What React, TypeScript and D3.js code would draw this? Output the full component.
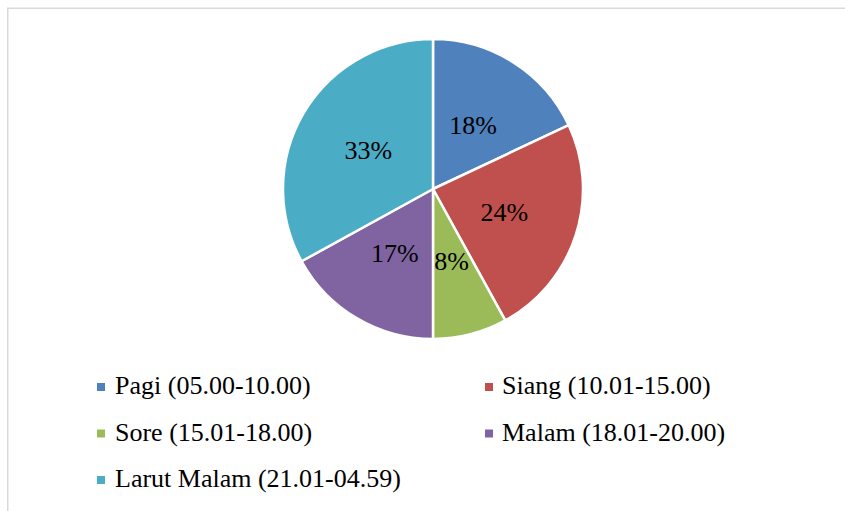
import React from "react";
import * as d3 from "d3";

const categories = [
  "Pagi (05.00-10.00)",
  "Siang (10.01-15.00)",
  "Sore (15.01-18.00)",
  "Malam (18.01-20.00)",
  "Larut Malam (21.01-04.59)",
];
const values = [18, 24, 8, 17, 33];
const colors = ["#4F81BD", "#C0504D", "#9BBB59", "#8064A2", "#4BACC6"];

const W = 845;
const H = 511;
const cx = 433;
const cy = 189;
const R = 150;
const FONT = "'Liberation Serif', 'Times New Roman', serif";

export default function App() {
  const pie = d3.pie<number>().sort(null).value((d) => d);
  const arcs = pie(values);
  const arc = d3.arc<d3.PieArcDatum<number>>().innerRadius(0).outerRadius(R);
  const total = d3.sum(values);

  const legendX = [97, 485];
  const legendTextX = [115, 502];
  const legendY = [394, 440.5, 487];

  return (
    <div style={{ position: "fixed", left: 0, top: 0 }}>
      <svg width={W} height={H} style={{ display: "block", background: "#fff" }}>
        <rect x={7.75} y={8.25} width={W + 20} height={H + 20} fill="#fff" stroke="#D9D9D9" strokeWidth={1.5} />
        <g transform={`translate(${cx},${cy})`}>
          {arcs.map((a, i) => (
            <path key={i} d={arc(a) || ""} fill={colors[i]} stroke="#fff" strokeWidth={2.5} strokeLinejoin="round" />
          ))}
          {arcs.map((a, i) => {
            const [x, y] = arc.centroid(a);
            return (
              <text
                key={"l" + i}
                x={x}
                y={y}
                dy="0.33em"
                textAnchor="middle"
                fontFamily={FONT}
                fontSize={26}
                fill="#000"
              >
                {Math.round((values[i] / total) * 100)}%
              </text>
            );
          })}
        </g>
        {categories.map((c, i) => {
          const col = i % 2;
          const row = Math.floor(i / 2);
          const by = legendY[row];
          return (
            <g key={"lg" + i}>
              <rect x={legendX[col]} y={by - 11} width={8} height={8} fill={colors[i]} />
              <text x={legendTextX[col]} y={by} fontFamily={FONT} fontSize={26} fill="#000">
                {c}
              </text>
            </g>
          );
        })}
      </svg>
    </div>
  );
}
